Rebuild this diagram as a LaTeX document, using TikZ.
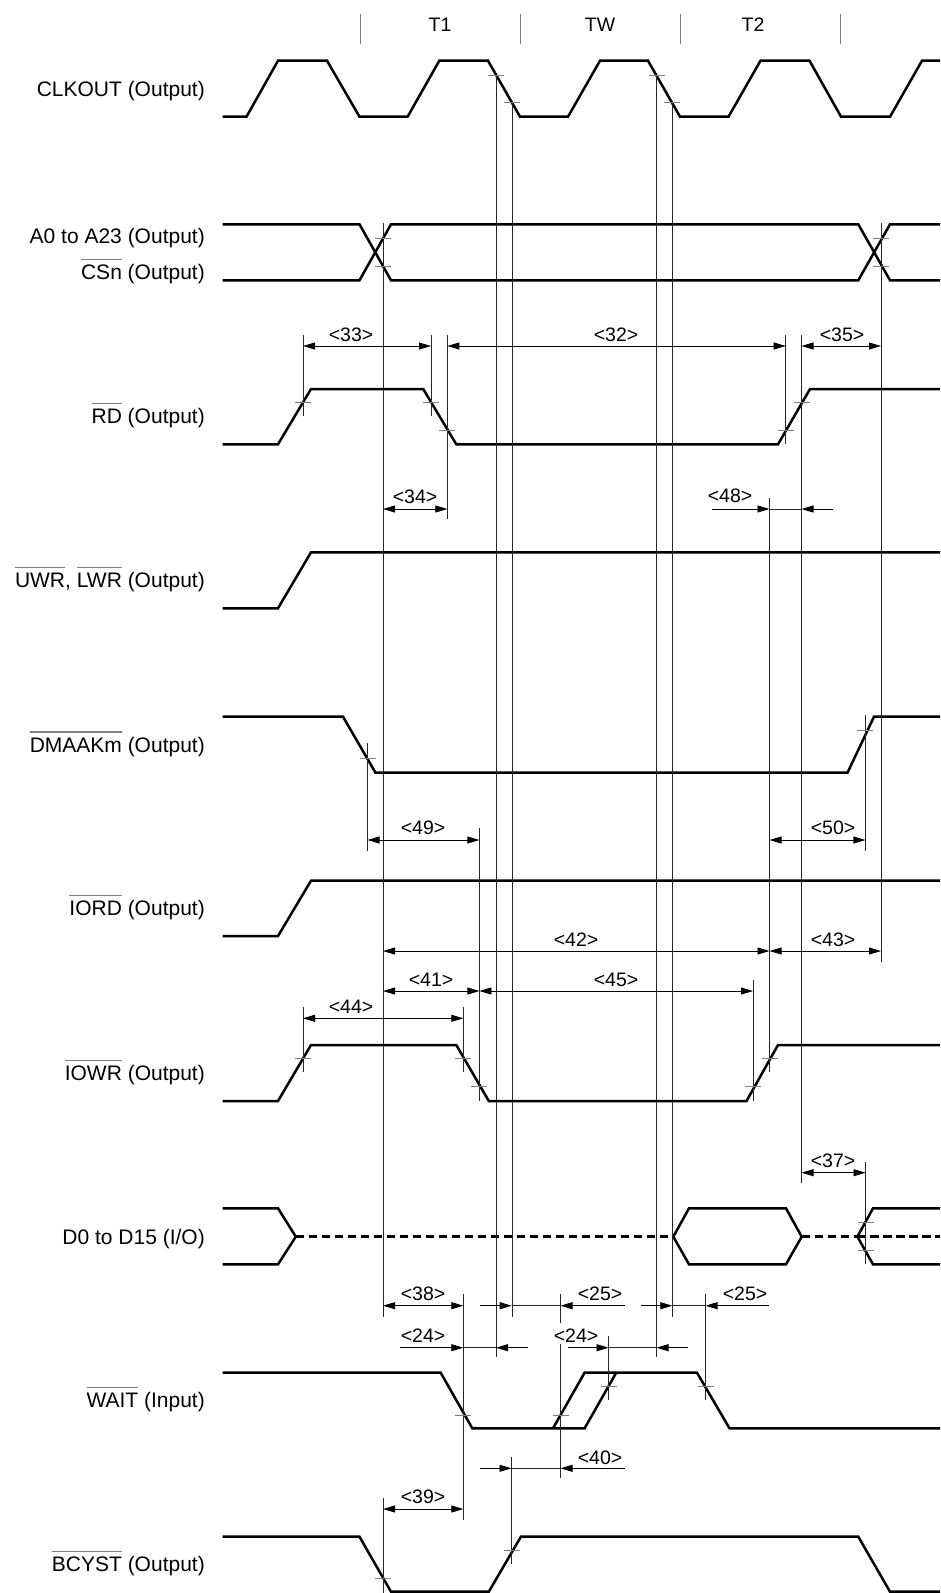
\documentclass[tikz,border=0pt]{standalone}
\usepackage{fontspec}
\setmainfont{Liberation Sans}
\usetikzlibrary{arrows.meta}
\newcommand{\ovl}[1]{\leavevmode\setbox0=\hbox{#1}\rlap{\raisebox{\dimexpr\ht0+5pt\relax}{\textcolor{gray}{\rule{\wd0}{1.2pt}}}}\box0\relax}

\begin{document}
\begin{tikzpicture}[x=1pt, y=-1pt,
    sig/.style = {line width=2.5pt},
    guide/.style = {line width=0.8pt, black!85},
    tickmark/.style = {line width=1pt, gray},
    dim/.style = {line width=0.8pt, {Triangle[length=12pt,width=7pt]}-{Triangle[length=12pt,width=7pt]}},
    half/.style = {line width=0.8pt, -{Triangle[length=12pt,width=7pt]}},
    siglbl/.style = {anchor=base east, inner sep=0pt, font=\fontsize{21}{25}\selectfont},
    dimlbl/.style = {inner sep=0pt, font=\fontsize{19.5}{23}\selectfont}]
    \useasboundingbox (0,0) rectangle (940,1593);

    \node[dimlbl] (t1) at (440,25) {T1};
    \node[dimlbl] (tw) at (600,25) {TW};
    \node[dimlbl] (t2) at (753,25) {T2};
    \foreach \x in {360,520,680,840}
        \draw[guide, gray] (\x,14) -- (\x,44);

    \node[siglbl] (clkout) at (205,96) {CLKOUT (Output)};
    \node[siglbl] (addr) at (205,243.5) {A0 to A23 (Output)};
    \node[siglbl] (csn) at (205,279.5) {\ovl{CSn} (Output)};
    \node[siglbl] (rd) at (205,423.5) {\ovl{RD} (Output)};
    \node[siglbl] (uwr) at (205,587.5) {\ovl{UWR}, \ovl{LWR} (Output)};
    \node[siglbl] (dmaak) at (205,752) {\ovl{DMAAKm} (Output)};
    \node[siglbl] (iord) at (205,915.5) {\ovl{IORD} (Output)};
    \node[siglbl] (iowr) at (205,1080.5) {\ovl{IOWR} (Output)};
    \node[siglbl] (data) at (205,1244) {D0 to D15 (I/O)};
    \node[siglbl] (wait) at (205,1407.5) {\ovl{WAIT} (Input)};
    \node[siglbl] (bcyst) at (205,1571.5) {\ovl{BCYST} (Output)};

    \draw[sig] (222.7,116.7) -- (246.5,116.7) -- (278,60.7) -- (327,60.7) -- (359.5,116.7) -- (407.6,116.7) -- (439.3,60.7) -- (488,60.7) -- (520,116.7) -- (568,116.7) -- (600,60.7) -- (648,60.7) -- (680,116.7) -- (728.5,116.7) -- (760.5,60.7) -- (809.5,60.7) -- (841,116.7) -- (890,116.7) -- (922,60.7) -- (940,60.7);
    \draw[sig] (222.7,224.3) -- (359.5,224.3) -- (391,280.3) -- (858.3,280.3) -- (890,224.3) -- (940,224.3);
    \draw[sig] (222.7,280.3) -- (359.5,280.3) -- (391,224.3) -- (858.3,224.3) -- (890,280.3) -- (940,280.3);
    \draw[sig] (222.7,444.3) -- (278,444.3) -- (311,389) -- (423.2,389) -- (456.3,444.3) -- (778,444.3) -- (810,389) -- (940,389);
    \draw[sig] (222.7,608.3) -- (278,608.3) -- (311,552.3) -- (940,552.3);
    \draw[sig] (222.7,716.7) -- (343,716.7) -- (375.5,772.7) -- (847.5,772.7) -- (874,716.7) -- (940,716.7);
    \draw[sig] (222.7,936) -- (278,936) -- (311,880.7) -- (940,880.7);
    \draw[sig] (222.7,1101) -- (278,1101) -- (311,1045) -- (456.3,1045) -- (488.8,1101) -- (746.5,1101) -- (778,1045) -- (940,1045);
    \draw[sig] (222.7,1208.3) -- (278,1208.3) -- (295.8,1236.7) -- (278,1264.3) -- (222.7,1264.3);
    \draw[sig] (673.3,1236.7) -- (689,1208.3) -- (786,1208.3) -- (801.7,1236.7) -- (786,1264.3) -- (689,1264.3) -- cycle;
    \draw[sig] (940,1208.3) -- (873,1208.3) -- (857.4,1236.7) -- (873,1264.3) -- (940,1264.3);
    \draw[sig, dash pattern=on 8.5pt off 4.5pt] (295.8,1236.7) -- (673.3,1236.7);
    \draw[sig, dash pattern=on 8.5pt off 4.5pt] (801.7,1236.7) -- (857.4,1236.7);
    \draw[sig, dash pattern=on 8.5pt off 4.5pt] (857.4,1236.7) -- (940,1236.7);
    \draw[sig] (222.7,1372.7) -- (440.7,1372.7) -- (472.3,1428.3) -- (584.6,1428.3) -- (616.2,1372.7) -- (697,1372.7) -- (729.5,1428.3) -- (940,1428.3);
    \draw[sig] (553,1428.3) -- (584.6,1372.7) -- (616.2,1372.7);
    \draw[sig] (222.7,1536.7) -- (359.5,1536.7) -- (391,1591.7) -- (488.8,1591.7) -- (520.9,1536.7) -- (858.3,1536.7) -- (890,1591.7) -- (940,1591.7);

    \foreach \x/\a/\b in {496/75/1357, 512/102/1317, 656.5/75/1357, 672.3/102/1317,
        383/223/1317, 881/223/962, 303/335/416, 431/335/416, 447.3/335/519,
        785.7/335/444, 801.5/335/1183, 769.5/498/1072, 367.5/743/851, 865.4/715/851,
        479.4/828/1101, 753/980/1101, 303/1007/1072, 463.3/1007/1072, 865.5/1162/1264,
        463.3/1294/1520, 560.5/1294/1323, 705.5/1294/1400, 608.5/1336/1400,
        560.5/1344/1478, 511.5/1457/1564, 383/1498/1593}
        \draw[guide] (\x,\a) -- (\x,\b);

    \foreach \x/\y in {496/75, 512/102, 656.5/75, 672.3/102, 383/238, 383/266, 881/238, 881/266,
        303/402, 431/402, 447.3/430.7, 785.7/430.7, 801.5/402, 367.5/758.3, 865.4/730.7,
        303/1058.3, 463.3/1058.3, 479.4/1086.7, 753/1086.7, 769.5/1058.3, 865.5/1222.7, 865.5/1250.7,
        463.3/1415, 560.5/1415, 608.5/1386.7, 705.5/1386.7, 383/1578, 511.5/1550.7}
        \draw[tickmark] (\x-8,\y) -- (\x+8,\y);

    \coordinate (a33) at (303,346); \coordinate (b33) at (431,346);
    \draw[dim] (a33) -- (b33);
    \node[dimlbl] (l33) at (351,335) {<33>};
    \coordinate (a32) at (447.3,346); \coordinate (b32) at (785.7,346);
    \draw[dim] (a32) -- (b32);
    \node[dimlbl] (l32) at (616,335) {<32>};
    \coordinate (a35) at (801.5,346); \coordinate (b35) at (881,346);
    \draw[dim] (a35) -- (b35);
    \node[dimlbl] (l35) at (842,335) {<35>};
    \coordinate (a34) at (383,509); \coordinate (b34) at (447.3,509);
    \draw[dim] (a34) -- (b34);
    \node[dimlbl] (l34) at (415,497) {<34>};
    \coordinate (a48) at (711.7,509); \coordinate (b48) at (769.5,509);
    \coordinate (c48) at (833.3,509); \coordinate (d48) at (801.5,509);
    \draw[half] (a48) -- (b48);
    \draw[half] (c48) -- (d48);
    \draw[guide] (b48) -- (d48);
    \node[dimlbl] (l48) at (730,496) {<48>};
    \coordinate (a49) at (367.5,840); \coordinate (b49) at (479.4,840);
    \draw[dim] (a49) -- (b49);
    \node[dimlbl] (l49) at (423,828) {<49>};
    \coordinate (a50) at (769.5,840); \coordinate (b50) at (865.4,840);
    \draw[dim] (a50) -- (b50);
    \node[dimlbl] (l50) at (833,828) {<50>};
    \coordinate (a42) at (383,951); \coordinate (b42) at (769.5,951);
    \draw[dim] (a42) -- (b42);
    \node[dimlbl] (l42) at (576,940) {<42>};
    \coordinate (a43) at (769.5,951); \coordinate (b43) at (881,951);
    \draw[dim] (a43) -- (b43);
    \node[dimlbl] (l43) at (833,940) {<43>};
    \coordinate (a41) at (383,991); \coordinate (b41) at (479.4,991);
    \draw[dim] (a41) -- (b41);
    \node[dimlbl] (l41) at (431,980) {<41>};
    \coordinate (a45) at (479.4,991); \coordinate (b45) at (753,991);
    \draw[dim] (a45) -- (b45);
    \node[dimlbl] (l45) at (616,980) {<45>};
    \coordinate (a44) at (303,1018.3); \coordinate (b44) at (463.3,1018.3);
    \draw[dim] (a44) -- (b44);
    \node[dimlbl] (l44) at (351,1007) {<44>};
    \coordinate (a37) at (801.5,1172.7); \coordinate (b37) at (865.5,1172.7);
    \draw[dim] (a37) -- (b37);
    \node[dimlbl] (l37) at (833,1161) {<37>};
    \coordinate (a38) at (383,1305.7); \coordinate (b38) at (463.3,1305.7);
    \draw[dim] (a38) -- (b38);
    \node[dimlbl] (l38) at (423,1293.5) {<38>};
    \coordinate (a25) at (480,1305.7); \coordinate (b25) at (511.7,1305.7);
    \coordinate (c25) at (625,1305.7); \coordinate (d25) at (560.5,1305.7);
    \draw[half] (a25) -- (b25);
    \draw[half] (c25) -- (d25);
    \draw[guide] (b25) -- (d25);
    \node[dimlbl] (l25) at (600,1293.5) {<25>};
    \coordinate (e25) at (641,1305.7); \coordinate (f25) at (672.3,1305.7);
    \coordinate (g25) at (768.7,1305.7); \coordinate (h25) at (705.5,1305.7);
    \draw[half] (e25) -- (f25);
    \draw[half] (g25) -- (h25);
    \draw[guide] (f25) -- (h25);
    \node[dimlbl] (m25) at (745,1293.5) {<25>};
    \coordinate (a24) at (400,1347.7); \coordinate (b24) at (463.3,1347.7);
    \coordinate (c24) at (527.7,1347.7); \coordinate (d24) at (496,1347.7);
    \draw[half] (a24) -- (b24);
    \draw[half] (c24) -- (d24);
    \draw[guide] (b24) -- (d24);
    \node[dimlbl] (l24) at (423,1336) {<24>};
    \coordinate (e24) at (568.3,1347.7); \coordinate (f24) at (608.5,1347.7);
    \coordinate (g24) at (688.3,1347.7); \coordinate (h24) at (656.5,1347.7);
    \draw[half] (e24) -- (f24);
    \draw[half] (g24) -- (h24);
    \draw[guide] (f24) -- (h24);
    \node[dimlbl] (m24) at (576,1336) {<24>};
    \coordinate (a40) at (479.8,1468.3); \coordinate (b40) at (511.5,1468.3);
    \coordinate (c40) at (624.7,1468.3); \coordinate (d40) at (560.5,1468.3);
    \draw[half] (a40) -- (b40);
    \draw[half] (c40) -- (d40);
    \draw[guide] (b40) -- (d40);
    \node[dimlbl] (l40) at (600,1457.3) {<40>};
    \coordinate (a39) at (383,1509); \coordinate (b39) at (463.3,1509);
    \draw[dim] (a39) -- (b39);
    \node[dimlbl] (l39) at (423,1497) {<39>};
\end{tikzpicture}
\end{document}
